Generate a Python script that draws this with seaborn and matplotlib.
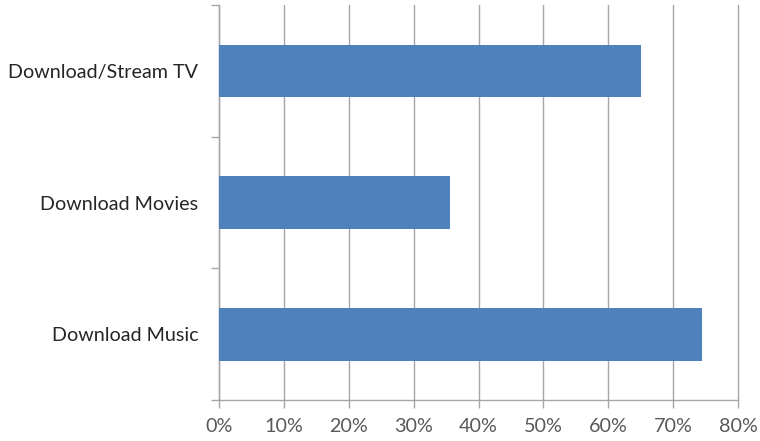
import matplotlib
matplotlib.use("Agg")
import matplotlib.pyplot as plt
from matplotlib.ticker import PercentFormatter, FixedLocator
import seaborn as sns
import pandas as pd

activities = ["Download/Stream TV", "Download Movies", "Download Music"]
shares = [65.0, 35.6, 74.5]
x_ticks = [0, 10, 20, 30, 40, 50, 60, 70, 80]

sns.set_style("white")
plt.rcParams["font.family"] = ["Lato", "DejaVu Sans"]

df = pd.DataFrame({"activity": activities, "share": shares})

fig = plt.figure(figsize=(7.6, 4.41), dpi=100)
ax = fig.add_axes([219 / 760, 41 / 441, 519 / 760, 395 / 441])

sns.barplot(data=df, y="activity", x="share", orient="h", color="#4F81BD",
            saturation=1, width=0.4, linewidth=0, ax=ax, zorder=3)

ax.set_xlim(0, 80)
ax.set_ylim(2.5, -0.5)
ax.set_xticks(x_ticks)
ax.xaxis.set_major_formatter(PercentFormatter(decimals=0))
ax.grid(axis="x", color="#A6A6A6", linewidth=1.0, zorder=0)
ax.set_axisbelow(True)
for line in ax.get_xgridlines():
    line.set_clip_on(False)

# category boundaries as small outward ticks on the value axis
ax.yaxis.set_minor_locator(FixedLocator([-0.5, 0.5, 1.5, 2.5]))
ax.tick_params(axis="y", which="major", length=0, pad=15, labelsize=14.2,
               labelcolor="#262626")
ax.tick_params(axis="y", which="minor", length=6, width=1, color="#A6A6A6",
               left=True)
ax.tick_params(axis="x", which="major", length=6, width=1, color="#A6A6A6",
               bottom=True, pad=7, labelsize=14.2, labelcolor="#595959")

for side in ("top", "right"):
    ax.spines[side].set_visible(False)
for side in ("left", "bottom"):
    ax.spines[side].set_color("#A6A6A6")
    ax.spines[side].set_linewidth(1.0)

ax.set_xlabel("")
ax.set_ylabel("")

fig.savefig("out.png", dpi=100)
